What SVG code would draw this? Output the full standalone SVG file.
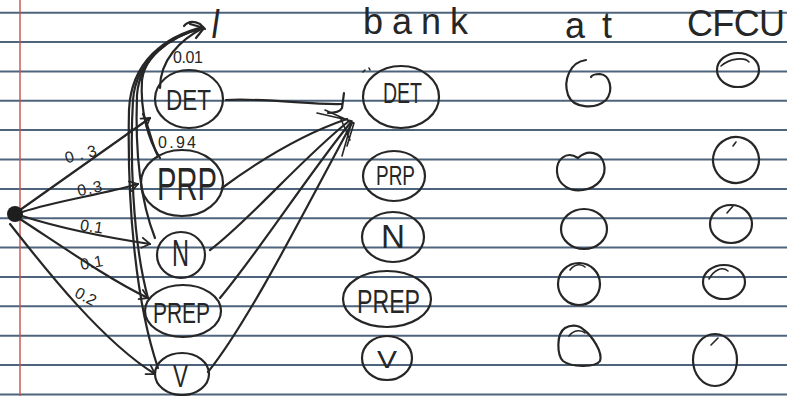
<svg xmlns="http://www.w3.org/2000/svg" width="787" height="396" viewBox="0 0 787 396">
  <defs>
    <style>
      .rule { stroke: #2f4a66; stroke-width: 2; opacity: 0.85; }
      .margin { stroke: #c9504a; stroke-width: 1.4; }
      .ink { fill: none; stroke: #262626; stroke-width: 2.2; stroke-linecap: round; stroke-linejoin: round; }
      .thin { fill: none; stroke: #262626; stroke-width: 1.6; stroke-linecap: round; stroke-linejoin: round; }
      .hand { font-family: "Liberation Sans", "DejaVu Sans", sans-serif; fill: #262626; }
      .prob { font-family: "Liberation Sans", "DejaVu Sans", sans-serif; fill: #262626; font-size: 16px; }
    </style>
    <marker id="open" viewBox="0 0 12 12" refX="10" refY="6" markerWidth="12" markerHeight="12" markerUnits="userSpaceOnUse" orient="auto">
      <path d="M2,1 L10,6 L2,11" fill="none" stroke="#262626" stroke-width="1.8" stroke-linecap="round" stroke-linejoin="round"/>
    </marker>
  </defs>

  <!-- notebook paper -->
  <rect width="787" height="396" fill="#ffffff"/>
  <g id="paper">
    <line class="rule" x1="0" y1="12.7" x2="787" y2="12.7"/>
    <line class="rule" x1="0" y1="42.1" x2="787" y2="42.1"/>
    <line class="rule" x1="0" y1="71.4" x2="787" y2="71.4"/>
    <line class="rule" x1="0" y1="100.8" x2="787" y2="100.8"/>
    <line class="rule" x1="0" y1="130.1" x2="787" y2="130.1"/>
    <line class="rule" x1="0" y1="159.5" x2="787" y2="159.5"/>
    <line class="rule" x1="0" y1="188.9" x2="787" y2="188.9"/>
    <line class="rule" x1="0" y1="218.2" x2="787" y2="218.2"/>
    <line class="rule" x1="0" y1="247.6" x2="787" y2="247.6"/>
    <line class="rule" x1="0" y1="276.9" x2="787" y2="276.9"/>
    <line class="rule" x1="0" y1="306.3" x2="787" y2="306.3"/>
    <line class="rule" x1="0" y1="335.7" x2="787" y2="335.7"/>
    <line class="rule" x1="0" y1="365.0" x2="787" y2="365.0"/>
    <line class="rule" x1="0" y1="394.4" x2="787" y2="394.4"/>
    <line class="margin" x1="20" y1="0" x2="20" y2="396"/>
  </g>

  <!-- column headings: the sentence -->
  <g id="words">
    <text class="hand" font-size="32" font-style="italic" transform="translate(211 38) scale(1 1.35)">I</text>
    <text class="hand" x="363" y="34" font-size="36" textLength="105" lengthAdjust="spacing">bank</text>
    <text class="hand" x="565" y="38" font-size="36" textLength="47" lengthAdjust="spacing">at</text>
    <text class="hand" x="687" y="36" font-size="36" textLength="98" lengthAdjust="spacing">CFCU</text>
  </g>

  <!-- connectors -->
  <g id="connectors">
    <!-- start transitions -->
    <path class="ink" d="M20,210 L150,118" marker-end="url(#open)"/>
    <path class="ink" d="M22,212 C60,200 100,195 138,184" marker-end="url(#open)"/>
    <path class="ink" d="M22,216 C60,228 110,238 150,244" marker-end="url(#open)"/>
    <path class="ink" d="M20,219 C60,245 110,280 148,298" marker-end="url(#open)"/>
    <path class="ink" d="M10,224 C40,262 100,340 155,374" marker-end="url(#open)"/>

    <!-- tag to "I" bundle -->
    <path class="ink" d="M158,368 C135,300 127,200 129,110 C131,62 165,36 203,27"/>
    <path class="ink" d="M148,298 C132,240 130,150 133,100 C136,60 170,36 203,28"/>
    <path class="ink" d="M155,238 C140,200 135,150 137,95 C140,56 172,36 203,28"/>
    <path class="ink" d="M160,158 C148,140 140,110 142,80 C146,52 175,34 203,28"/>
    <path class="ink" d="M160,88 C160,60 180,40 203,28"/>
    <path class="ink" d="M143,114 C150,130 152,145 158,156"/>
    <path class="ink" d="M184,26 C189,20 196,22 200,24 L205,29 M190,24 L204,28 M196,38 L204,28"/>

    <!-- tag to "bank" bundle -->
    <path class="ink" d="M226,100 C270,98 310,105 342,104"/>
    <path class="ink" d="M344,93 L342,108 C340,112 334,113 328,113"/>
    <path class="ink" d="M222,188 C260,160 300,135 347,119"/>
    <path class="ink" d="M210,250 C250,220 300,160 349,121"/>
    <path class="ink" d="M220,298 C260,250 310,172 351,122"/>
    <path class="ink" d="M208,372 C250,320 310,200 352,123"/>
    <path class="thin" d="M317,113 L352,121 L342,156 M325,110 L354,123 L347,146 M340,117 L350,140"/>
  </g>

  <!-- start state -->
  <g id="start">
    <circle cx="15" cy="214" r="8" fill="#1e1e1e"/>
  </g>

  <!-- transition probabilities -->
  <g id="probs">
    <text class="prob" x="64" y="160" font-size="18" transform="rotate(-15 79 152)" textLength="32" lengthAdjust="spacing">0.3</text>
    <text class="prob" x="77" y="194" transform="rotate(-12 89 188)" textLength="25" lengthAdjust="spacing">0.3</text>
    <text class="prob" x="80" y="232" transform="rotate(8 92 227)" textLength="23" lengthAdjust="spacing">0.1</text>
    <text class="prob" x="80" y="268" transform="rotate(-10 92 262)" textLength="23" lengthAdjust="spacing">0.1</text>
    <text class="prob" x="75" y="302" font-size="17" transform="rotate(28 86 296)" textLength="22" lengthAdjust="spacing">0.2</text>
    <text class="prob" x="173" y="63" textLength="30" lengthAdjust="spacing">0.01</text>
    <text class="prob" x="158" y="148" font-size="17" textLength="38" lengthAdjust="spacing">0.94</text>
  </g>

  <!-- tags for "I" -->
  <g id="i-det">
    <ellipse class="ink" cx="189" cy="99" rx="34" ry="29"/>
    <text class="hand" x="166" y="110" font-size="30" textLength="45" lengthAdjust="spacingAndGlyphs">DET</text>
  </g>
  <g id="i-prp">
    <ellipse class="ink" cx="182" cy="183" rx="41" ry="33"/>
    <text class="hand" x="157" y="200" font-size="46" textLength="60" lengthAdjust="spacingAndGlyphs">PRP</text>
  </g>
  <g id="i-n">
    <ellipse class="ink" cx="181" cy="255" rx="24" ry="23"/>
    <text class="hand" x="172" y="266" font-size="36" textLength="17" lengthAdjust="spacingAndGlyphs">N</text>
  </g>
  <g id="i-prep">
    <ellipse class="ink" cx="183" cy="311" rx="38" ry="26"/>
    <text class="hand" x="153" y="323" font-size="29" textLength="57" lengthAdjust="spacingAndGlyphs">PREP</text>
  </g>
  <g id="i-v">
    <ellipse class="ink" cx="182" cy="374" rx="27" ry="21"/>
    <text class="hand" x="173" y="387" font-size="31" textLength="15" lengthAdjust="spacingAndGlyphs">V</text>
  </g>

  <!-- tags for "bank" -->
  <g id="bank-det">
    <ellipse class="ink" cx="401" cy="97" rx="38" ry="31"/>
    <path class="thin" d="M363,72 L365,70 M369,68 L370,70"/>
    <text class="hand" x="383" y="103" font-size="30" textLength="39" lengthAdjust="spacingAndGlyphs">DET</text>
  </g>
  <g id="bank-prp">
    <ellipse class="ink" cx="394" cy="176" rx="31" ry="25"/>
    <text class="hand" x="376" y="185" font-size="27" textLength="39" lengthAdjust="spacingAndGlyphs">PRP</text>
  </g>
  <g id="bank-n">
    <ellipse class="ink" cx="393" cy="237" rx="31" ry="25"/>
    <text class="hand" x="381" y="248" font-size="34" textLength="24" lengthAdjust="spacingAndGlyphs">N</text>
  </g>
  <g id="bank-prep">
    <ellipse class="ink" cx="387" cy="299" rx="44" ry="28"/>
    <text class="hand" x="357" y="313" font-size="34" textLength="63" lengthAdjust="spacingAndGlyphs">PREP</text>
  </g>
  <g id="bank-v">
    <ellipse class="ink" cx="387" cy="358" rx="25" ry="22"/>
    <text class="hand" x="377" y="368" font-size="24" textLength="20" lengthAdjust="spacingAndGlyphs">V</text>
  </g>

  <!-- empty states for "at" -->
  <g id="at-1"><path class="ink" d="M586,60 C570,62 563,80 568,95 C573,108 595,110 606,100 C614,90 610,75 600,74 C596,74 592,75 591,77"/></g>
  <g id="at-2"><path class="ink" d="M578,158 C566,150 556,160 557,172 C558,185 570,192 583,190 C598,188 607,176 604,164 C601,152 588,149 578,158"/></g>
  <g id="at-3"><ellipse class="ink" cx="584" cy="229" rx="23" ry="20"/></g>
  <g id="at-4"><ellipse class="ink" cx="579" cy="284" rx="21" ry="21"/><path class="thin" d="M570,270 C575,263 582,264 585,267"/></g>
  <g id="at-5"><path class="ink" d="M565,328 C556,334 557,355 563,361 C572,368 596,367 600,361 C603,352 592,336 584,330 C578,324 570,325 565,328"/><path class="thin" d="M569,336 C574,329 582,330 585,333"/></g>

  <!-- empty states for "CFCU" -->
  <g id="cfcu-1"><ellipse class="ink" cx="738" cy="70" rx="21" ry="17"/><path class="thin" d="M721,66 C730,58 745,57 749,62"/></g>
  <g id="cfcu-2"><ellipse class="ink" cx="736" cy="160" rx="23" ry="23" transform="rotate(20 736 160)"/><path class="thin" d="M733,146 L736,142"/></g>
  <g id="cfcu-3"><ellipse class="ink" cx="731" cy="224" rx="21" ry="19"/><path class="thin" d="M727,213 L733,206"/></g>
  <g id="cfcu-4"><ellipse class="ink" cx="724" cy="282" rx="21" ry="17"/><path class="thin" d="M709,279 C714,270 722,266 728,271"/></g>
  <g id="cfcu-5"><ellipse class="ink" cx="715" cy="360" rx="22" ry="26"/><path class="thin" d="M711,345 L718,338"/></g>
</svg>
